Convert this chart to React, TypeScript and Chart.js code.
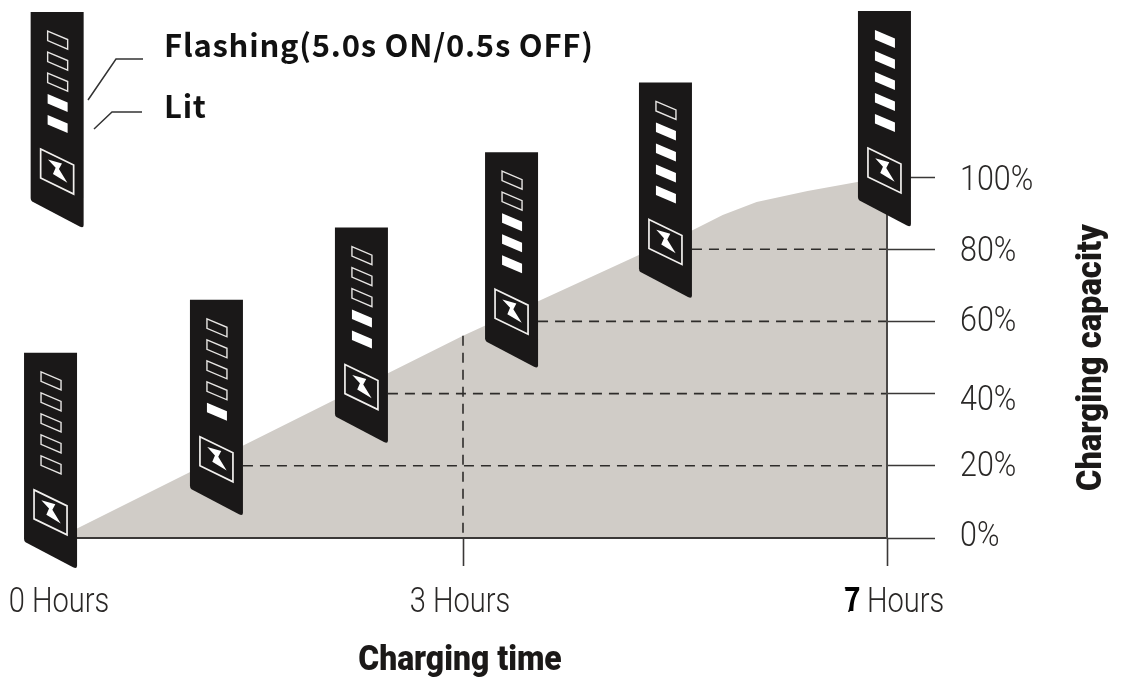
import React, { useEffect, useRef } from "react";
import { Chart, LinearScale, registerables } from "chart.js";

// ---- data ----
const curveHours = [0, 3, 4.48, 5.17, 5.45, 5.77, 6.25, 6.72, 7];
const curvePercent = [0, 56, 76, 85.3, 89.5, 93.1, 96.1, 98.6, 100];
const xTickHours = [0, 3, 7];
const yTickStep = 20;
const dashLevels = [20, 40, 60, 80];
const dashStartHours = [1.37, 2.444, 3.708, 5.16];
const threeHourDashTop = 56;
const badgeHours = [0.141, 1.37, 2.444, 3.708, 5.16, 7.226];
const badgePercent = [5.3, 20, 40, 60.9, 80.2, 100];
const badgeLitCounts = [0, 1, 2, 3, 4, 5];
const legendBadgeHours = 0.19;
const legendBadgePercent = 99.7;
const legendBadgeLit = 2;
const flashingLabel = "Flashing(5.0s ON/0.5s OFF)";
const litLabel = "Lit";
const xTitle = "Charging time";
const yTitle = "Charging capacity";

const CJK = "'Noto Sans CJK JP', 'Noto Sans', sans-serif";
const LIGHT_FONT = "300 35px Roboto, 'Liberation Sans', sans-serif";
const HEAVY_FONT = "900 35px Roboto, 'Liberation Sans', sans-serif";
const LABEL_COLOR = "#2a2827";
const AXIS_LINE = "#3a3837";
const BADGE = "#1a1818";
const BREAK_FRACTION = 405 / 829; // the drawing's time axis is not uniform

class HoursScale extends LinearScale {
  static id = "hours";
  getPixelForValue(v: number) {
    if (v === null || v === undefined) return NaN;
    const f = v <= 3 ? (v / 3) * BREAK_FRACTION : BREAK_FRACTION + ((v - 3) / 4) * (1 - BREAK_FRACTION);
    return (this as any).getPixelForDecimal(f);
  }
  getValueForPixel(p: number) {
    const f = (this as any).getDecimalForPixel(p);
    return f <= BREAK_FRACTION ? (f / BREAK_FRACTION) * 3 : 3 + ((f - BREAK_FRACTION) / (1 - BREAK_FRACTION)) * 4;
  }
}
Chart.register(...registerables, HoursScale as any);

function poly(ctx: CanvasRenderingContext2D, ox: number, oy: number, pts: number[][]) {
  ctx.beginPath();
  pts.forEach(([x, y], i) => (i ? ctx.lineTo(ox + x, oy + y) : ctx.moveTo(ox + x, oy + y)));
  ctx.closePath();
}

function squeezed(
  ctx: CanvasRenderingContext2D,
  text: string,
  x: number,
  y: number,
  sx: number,
  align: CanvasTextAlign,
  rotate = 0,
) {
  ctx.save();
  ctx.translate(x, y);
  if (rotate) ctx.rotate(rotate);
  ctx.scale(sx, 1);
  ctx.textAlign = align;
  ctx.textBaseline = "alphabetic";
  ctx.fillText(text, 0, 0);
  ctx.restore();
}

function drawBadge(ctx: CanvasRenderingContext2D, right: number, anchorY: number, lit: number) {
  const ox = right - 53;
  const oy = anchorY - 166;
  ctx.save();
  ctx.fillStyle = BADGE;
  ctx.beginPath();
  ctx.moveTo(ox, oy);
  ctx.lineTo(ox + 53, oy);
  ctx.lineTo(ox + 53, oy + 213);
  ctx.quadraticCurveTo(ox + 53, oy + 216.5, ox + 49, oy + 214.5);
  ctx.lineTo(ox + 1.5, oy + 189.5);
  ctx.quadraticCurveTo(ox, oy + 188.5, ox, oy + 186);
  ctx.closePath();
  ctx.fill();

  const tops = [19, 40, 61, 82, 103];
  tops.forEach((t, i) => {
    const isLit = i >= 5 - lit;
    poly(ctx, ox, oy, [[17, t], [37, t + 8.5], [37, t + 18], [17, t + 9.5]]);
    if (isLit) {
      ctx.fillStyle = "#ffffff";
      ctx.fill();
    } else {
      ctx.strokeStyle = "#e8e6e4";
      ctx.lineWidth = 1.4;
      ctx.stroke();
    }
  });

  poly(ctx, ox, oy, [[10, 137], [43, 153], [43, 182], [10, 166]]);
  ctx.strokeStyle = "#f2f0ee";
  ctx.lineWidth = 1.7;
  ctx.stroke();

  poly(ctx, ox, oy, [[17.3, 147.3], [31.3, 151.3], [28.3, 157], [36.7, 170.7], [22.3, 162], [25, 155.7]]);
  ctx.fillStyle = "#ffffff";
  ctx.fill();
  ctx.restore();
}

const overlayPlugin = {
  id: "overlay",
  afterDraw(chart: any) {
    const { ctx, scales, chartArea } = chart;
    const { x, y } = scales;

    // legend leaders
    ctx.save();
    ctx.strokeStyle = "#333";
    ctx.lineWidth = 1.5;
    ctx.beginPath();
    ctx.moveTo(88, 100);
    ctx.lineTo(116, 59);
    ctx.lineTo(143, 59);
    ctx.moveTo(94, 129);
    ctx.lineTo(112, 112);
    ctx.lineTo(142, 112);
    ctx.stroke();
    ctx.restore();

    badgeHours.forEach((h, i) => {
      drawBadge(ctx, x.getPixelForValue(h), y.getPixelForValue(badgePercent[i]), badgeLitCounts[i]);
    });
    drawBadge(ctx, x.getPixelForValue(legendBadgeHours), y.getPixelForValue(legendBadgePercent), legendBadgeLit);

    // tick labels, squeezed because no condensed face is installed
    ctx.save();
    ctx.fillStyle = LABEL_COLOR;
    ctx.font = LIGHT_FONT;
    const xNudge = [1, -3, 7];
    x.ticks.forEach((t: any, i: number) => {
      squeezed(ctx, t.label, x.getPixelForTick(i) + xNudge[i], chartArea.bottom + 74, 0.83, "center");
    });
    const yNudge = [8, 10, 16, 10, 12, 13];
    y.ticks.forEach((t: any, i: number) => {
      squeezed(ctx, t.label, x.right + 73, y.getPixelForTick(i) + yNudge[i], 0.87, "left");
    });
    ctx.restore();

    // titles
    ctx.save();
    ctx.fillStyle = "#1b1918";
    ctx.font = HEAVY_FONT;
    squeezed(ctx, xTitle, x.getPixelForValue(3) - 3, chartArea.bottom + 132, 0.91, "center");
    squeezed(ctx, yTitle, 1101, y.getPixelForValue(50), 0.935, "center", -Math.PI / 2);
    ctx.restore();

    // legend text
    ctx.save();
    ctx.fillStyle = "#111";
    ctx.textBaseline = "alphabetic";
    ctx.textAlign = "left";
    ctx.font = `700 31px ${CJK}`;
    (ctx as any).letterSpacing = "0.76px";
    ctx.fillText(flashingLabel, 164, 57);
    ctx.fillText(litLabel, 164, 118);
    (ctx as any).letterSpacing = "0px";
    ctx.restore();

    // the darker, heavier 7 of the reference's last time label
    ctx.save();
    ctx.fillStyle = "#000";
    ctx.font = `700 33px ${CJK}`;
    squeezed(ctx, "7", 844, 611, 0.85, "left");
    ctx.restore();
  },
};

export default function App() {
  const ref = useRef<HTMLCanvasElement>(null);
  useEffect(() => {
    const dashStyle = {
      borderColor: "#2e2c2b",
      borderWidth: 1.6,
      borderDash: [10, 7],
      pointRadius: 0,
      fill: false,
      tension: 0,
    };
    const chart = new Chart(ref.current!, {
      type: "line",
      data: {
        datasets: [
          ...dashLevels.map((lv, i) => ({
            ...dashStyle,
            label: `${lv}%`,
            data: [
              { x: dashStartHours[i], y: lv },
              { x: 7, y: lv },
            ],
          })),
          {
            ...dashStyle,
            label: "3 Hours",
            data: [
              { x: 3, y: threeHourDashTop },
              { x: 3, y: 0 },
            ],
          },
          {
            label: "Charging capacity",
            data: curveHours.map((h, i) => ({ x: h, y: curvePercent[i] })),
            backgroundColor: "#d0ccc7",
            borderWidth: 0,
            borderColor: "transparent",
            pointRadius: 0,
            fill: "origin",
            tension: 0,
          },
        ] as any,
      },
      options: {
        animation: false,
        responsive: false,
        devicePixelRatio: 1,
        layout: { padding: { left: 58, top: 177, right: 0, bottom: 0 } },
        plugins: { legend: { display: false }, tooltip: { enabled: false } },
        scales: {
          x: {
            type: "hours" as any,
            min: 0,
            max: 7,
            afterBuildTicks: (s: any) => {
              s.ticks = xTickHours.map((value) => ({ value }));
            },
            afterFit: (s: any) => {
              s.height = 677 - 538;
            },
            grid: {
              drawOnChartArea: false,
              tickLength: 28,
              tickWidth: 1.6,
              z: 1,
              tickColor: (c: any) => (c.tick && c.tick.value === 0 ? "transparent" : AXIS_LINE),
            },
            border: { display: true, color: AXIS_LINE, width: 2, z: 1 },
            ticks: {
              display: false,
              autoSkip: false,
              maxRotation: 0,
              callback: (v: any) => `${v} Hours`,
            },
          },
          y: {
            type: "linear",
            position: "right",
            min: 0,
            max: 100,
            afterFit: (s: any) => {
              s.width = 1121 - 887;
            },
            grid: {
              drawOnChartArea: false,
              tickLength: 48,
              tickWidth: 1.6,
              tickColor: AXIS_LINE,
              z: 1,
            },
            border: { display: true, color: "#4a4847", width: 2, z: 1 },
            ticks: {
              display: false,
              stepSize: yTickStep,
              callback: (v: any) => `${v}%`,
            },
          },
        },
      } as any,
      plugins: [overlayPlugin as any],
    });
    return () => chart.destroy();
  }, []);
  return (
    <div style={{ position: "fixed", left: 0, top: 0, width: 1121, height: 677, background: "#fff" }}>
      <canvas ref={ref} width={1121} height={677} style={{ display: "block", width: 1121, height: 677 }} />
    </div>
  );
}
